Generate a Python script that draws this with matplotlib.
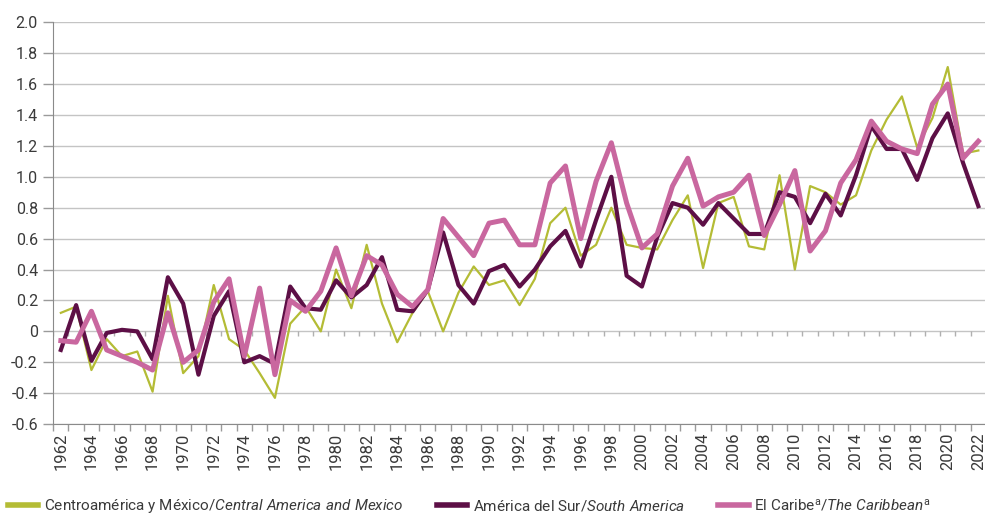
import numpy as np
import matplotlib
matplotlib.use("Agg")
import matplotlib.pyplot as plt

plt.rcParams['font.family'] = ['Roboto', 'DejaVu Sans']
plt.rcParams['mathtext.fontset'] = 'custom'
plt.rcParams['mathtext.rm'] = 'Roboto'
plt.rcParams['mathtext.it'] = 'Roboto:italic'

years = list(range(1962, 2023))

centro_mexico = [0.12, 0.16, -0.25, -0.05, -0.16, -0.13, -0.39, 0.23, -0.27, -0.16,
                 0.30, -0.05, -0.12, -0.27, -0.43, 0.05, 0.16, 0.00, 0.40, 0.15,
                 0.56, 0.18, -0.07, 0.12, 0.26, 0.00, 0.25, 0.42, 0.30, 0.33,
                 0.17, 0.34, 0.70, 0.80, 0.49, 0.56, 0.80, 0.56, 0.54, 0.53,
                 0.72, 0.88, 0.41, 0.83, 0.87, 0.55, 0.53, 1.01, 0.40, 0.94,
                 0.90, 0.82, 0.88, 1.17, 1.37, 1.52, 1.19, 1.38, 1.71, 1.15,
                 1.17]

america_sur = [-0.12, 0.17, -0.19, -0.01, 0.01, 0.00, -0.18, 0.35, 0.18, -0.28,
               0.10, 0.26, -0.20, -0.16, -0.21, 0.29, 0.15, 0.14, 0.33, 0.22,
               0.30, 0.48, 0.14, 0.13, 0.27, 0.64, 0.30, 0.18, 0.39, 0.43,
               0.29, 0.40, 0.55, 0.65, 0.42, 0.72, 1.00, 0.36, 0.29, 0.61,
               0.83, 0.80, 0.69, 0.83, 0.73, 0.63, 0.63, 0.90, 0.87, 0.70,
               0.89, 0.75, 1.01, 1.33, 1.18, 1.18, 0.98, 1.25, 1.41, 1.09,
               0.81]

caribe = [-0.06, -0.07, 0.13, -0.12, -0.16, -0.20, -0.25, 0.12, -0.20, -0.12,
          0.19, 0.34, -0.16, 0.28, -0.28, 0.20, 0.13, 0.26, 0.54, 0.23,
          0.49, 0.43, 0.24, 0.16, 0.27, 0.73, 0.61, 0.49, 0.70, 0.72,
          0.56, 0.56, 0.96, 1.07, 0.60, 0.97, 1.22, 0.83, 0.54, 0.63,
          0.94, 1.12, 0.81, 0.87, 0.90, 1.01, 0.62, 0.82, 1.04, 0.52,
          0.65, 0.96, 1.11, 1.36, 1.23, 1.18, 1.15, 1.47, 1.60, 1.12,
          1.23]

labels = [r"Centroamérica y México/$\mathit{Central\ America\ and\ Mexico}$",
          r"América del Sur/$\mathit{South\ America}$",
          r"El Caribe$^{\mathrm{a}}$/$\mathit{The\ Caribbean}^{\mathrm{a}}$"]
colors = ['#b4bc35', '#5d0f46', '#c9679f']

fig = plt.figure(figsize=(9.85, 5.16), dpi=100)
ax = fig.add_axes([0.054, 0.178, 0.947, 0.779])

x = np.arange(len(years))
l1, = ax.plot(x, centro_mexico, color=colors[0], lw=1.6, zorder=3)
l2, = ax.plot(x, america_sur, color=colors[1], lw=3.0, zorder=4)
l3, = ax.plot(x, caribe, color=colors[2], lw=3.6, zorder=5)

ax.set_xlim(-0.5, len(years) - 0.5)
ax.set_ylim(-0.6, 2.0)
ax.set_yticks(np.arange(-0.6, 2.01, 0.2))
ax.set_yticklabels(['0' if abs(v) < 1e-9 else f'{v:.1f}' for v in np.arange(-0.6, 2.01, 0.2)])
ax.grid(axis='y', color='#c4c4c4', lw=1.0)
ax.set_axisbelow(True)

ax.set_xticks(x[::2])
ax.set_xticklabels([str(y) for y in years[::2]], rotation=90)
ax.set_xticks(np.arange(-0.5, len(years), 1.0), minor=True)
ax.tick_params(axis='x', which='major', length=0, pad=6, labelsize=12)
ax.tick_params(axis='x', which='minor', length=5, color='#9a9a9a', width=1)
ax.tick_params(axis='y', length=7, color='#9a9a9a', width=1, pad=4, labelsize=11.5)
ax.tick_params(labelcolor='#3a3a3a')

# small category ticks hanging under the zero line
ax.vlines(np.arange(-0.5, len(years), 1.0), -0.03, 0, color='#b0b0b0', lw=1, zorder=1)

for s in ['top', 'right']:
    ax.spines[s].set_visible(False)
for s in ['left', 'bottom']:
    ax.spines[s].set_color('#8a8a8a')

leg = fig.legend([l1, l2, l3], labels, loc='lower left', bbox_to_anchor=(-0.006, -0.025),
                 ncol=3, frameon=False, fontsize=11, handlelength=2.0,
                 handletextpad=0.35, columnspacing=2.2, labelcolor='#3a3a3a')
for h in leg.legend_handles:
    h.set_linewidth(4)

fig.savefig('out.png', dpi=100)
